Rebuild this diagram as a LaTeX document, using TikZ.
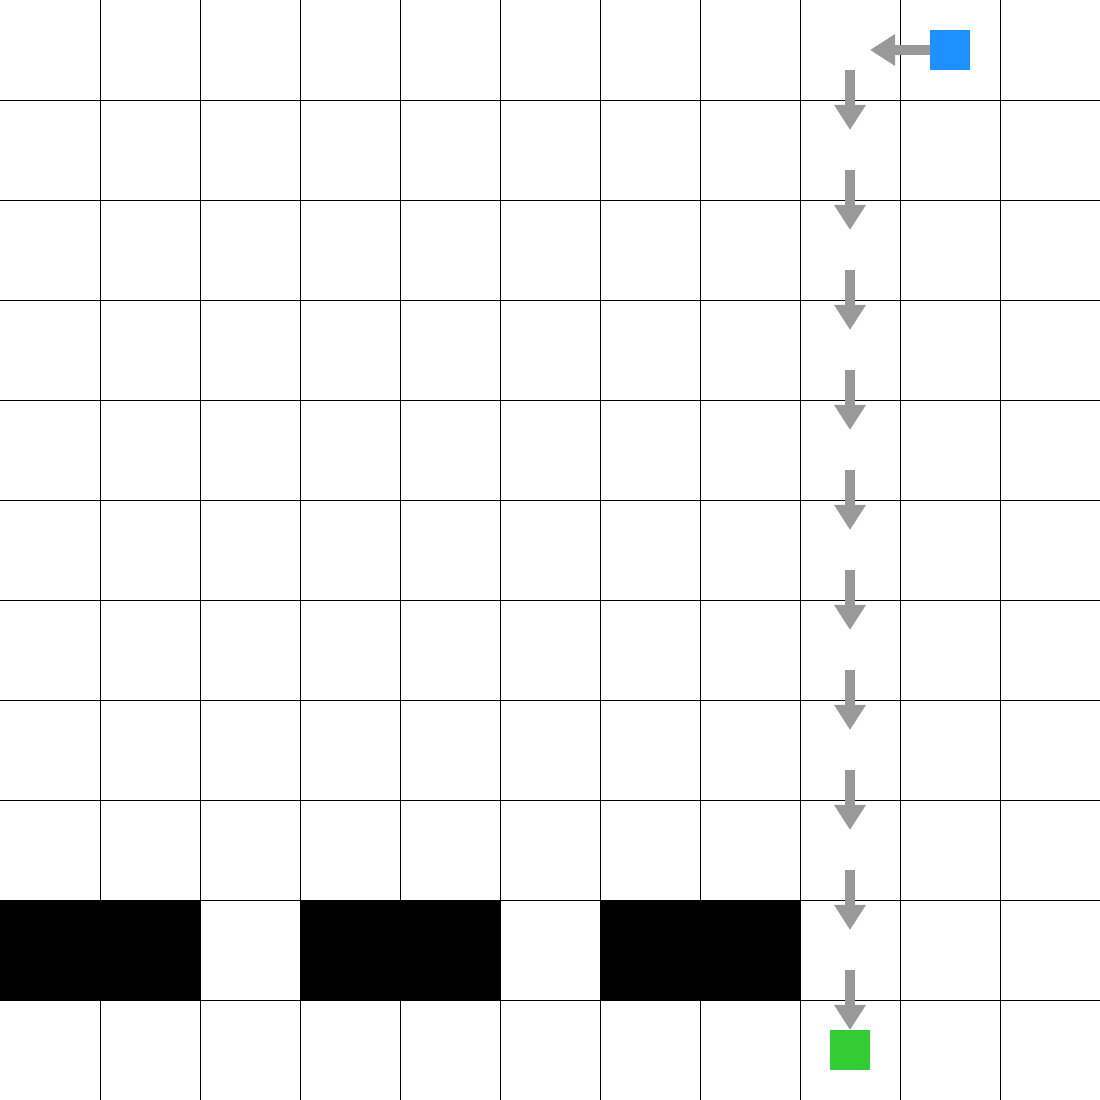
\documentclass[tikz,border=0pt]{standalone}
\usetikzlibrary{arrows.meta}
\definecolor{arrgray}{RGB}{153,153,153}
\definecolor{startblue}{RGB}{30,144,255}
\definecolor{goalgreen}{RGB}{50,205,50}
\tikzset{
  gridline/.style={line width=0.009cm, black},
  wall/.style={fill=black, draw=none},
  movearrow/.style={draw=arrgray, line width=0.1cm, line cap=butt,
    -{Triangle[length=0.25cm, width=0.3cm]}, shorten <=0.2cm, shorten >=0.2cm},
  agent/.style={minimum size=0.4cm, inner sep=0pt, draw=none, fill=#1}
}
\begin{document}
\begin{tikzpicture}[x=1cm,y=1cm]
\useasboundingbox (0,0) rectangle (11,11);
\fill[white] (0,0) rectangle (11,11);
% grid (interior lines only)
\foreach \i in {1,...,10} {
  \draw[gridline] (\i,0) -- (\i,11);
  \draw[gridline] (0,\i) -- (11,\i);
}
% walls (row 9 from top)
\fill[wall] (0,1) rectangle (2,2);
\fill[wall] (3,1) rectangle (5,2);
\fill[wall] (6,1) rectangle (8,2);
% cell centres along the path
\coordinate (s) at (9.5,10.5);
\foreach \r in {0,...,10} {
  \coordinate (p\r) at (8.5,{10.5-\r});
}
% arrows
\draw[movearrow] (s) -- (p0);
\foreach \r [evaluate=\r as \n using int(\r+1)] in {0,...,9} {
  \draw[movearrow] (p\r) -- (p\n);
}
% start and goal
\node[agent=startblue] (start) at (s) {};
\node[agent=goalgreen] (goal) at (p10) {};
\end{tikzpicture}
\end{document}
